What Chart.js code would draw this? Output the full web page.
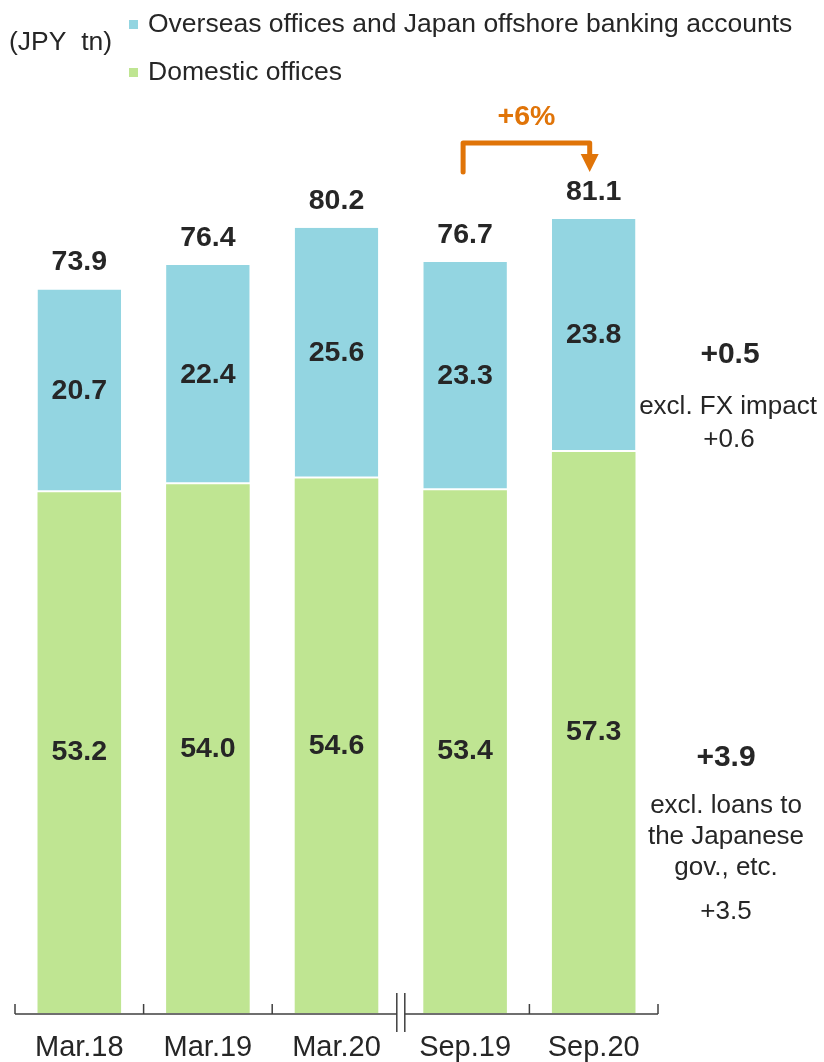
<!DOCTYPE html>
<html>
<head>
<meta charset="utf-8">
<script src="https://cdn.jsdelivr.net/npm/chart.js@4"></script>
<style>
  html, body { margin: 0; padding: 0; background: #fff; }
  #wrap { width: 824px; height: 1062px; }
</style>
</head>
<body>
<div id="wrap"><canvas id="loanChart" width="824" height="1062"></canvas></div>
<script>
const categories = ['Mar.18', 'Mar.19', 'Mar.20', 'Sep.19', 'Sep.20'];
const domestic = [53.2, 54.0, 54.6, 53.4, 57.3];
const overseas = [20.7, 22.4, 25.6, 23.3, 23.8];
const totals = [73.9, 76.4, 80.2, 76.7, 81.1];
const breakAfter = 2; // axis break between Mar.20 and Sep.19

const FONT = '"Liberation Sans", Arial, sans-serif';
const TEXT = '#262626';
const BLUE = '#93d5e1';
const GREEN = '#bfe592';
const ORANGE = '#e07408';

const annotate = {
  id: 'annotate',
  afterDatasetsDraw(chart) {
    const ctx = chart.ctx;
    const xs = chart.scales.x;
    const ys = chart.scales.y;
    const area = chart.chartArea;
    const step = xs.getPixelForValue(1) - xs.getPixelForValue(0);
    ctx.save();
    ctx.textAlign = 'center';
    ctx.textBaseline = 'middle';

    // values inside each segment
    ctx.fillStyle = TEXT;
    ctx.font = 'bold 28.5px ' + FONT;
    chart.data.datasets.forEach((ds, di) => {
      chart.getDatasetMeta(di).data.forEach((bar, i) => {
        ctx.fillText(ds.data[i].toFixed(1), bar.x, (bar.y + bar.base) / 2);
      });
    });

    // totals above bars
    totals.forEach((t, i) => {
      ctx.fillText(t.toFixed(1), xs.getPixelForValue(i), ys.getPixelForValue(t) - 27);
    });

    // category axis with break
    const y0 = ys.getPixelForValue(0) + 1;
    ctx.strokeStyle = '#404040';
    ctx.lineWidth = 1.5;
    const bx = xs.getPixelForValue(breakAfter) + step / 2;
    ctx.beginPath();
    ctx.moveTo(area.left, y0);
    ctx.lineTo(bx - 4, y0);
    ctx.moveTo(bx + 4, y0);
    ctx.lineTo(area.right, y0);
    for (let i = 0; i <= categories.length; i++) {
      if (i === breakAfter + 1) continue;
      const tx = xs.getPixelForValue(i) - step / 2;
      ctx.moveTo(tx, y0 - 10);
      ctx.lineTo(tx, y0);
    }
    ctx.moveTo(bx - 4, y0 - 21);
    ctx.lineTo(bx - 4, y0 + 18);
    ctx.moveTo(bx + 4, y0 - 21);
    ctx.lineTo(bx + 4, y0 + 18);
    ctx.stroke();

    ctx.font = '29px ' + FONT;
    categories.forEach((c, i) => {
      ctx.fillText(c, xs.getPixelForValue(i), y0 + 34);
    });

    // growth arrow from Sep.19 to Sep.20
    const ax1 = xs.getPixelForValue(3) - 2;
    const ax2 = xs.getPixelForValue(4) - 4;
    const ay = 143;
    ctx.strokeStyle = ORANGE;
    ctx.fillStyle = ORANGE;
    ctx.lineWidth = 5;
    ctx.lineCap = 'round';
    ctx.lineJoin = 'round';
    ctx.beginPath();
    ctx.moveTo(ax1, 172);
    ctx.lineTo(ax1, ay);
    ctx.lineTo(ax2, ay);
    ctx.lineTo(ax2, 156);
    ctx.stroke();
    ctx.beginPath();
    ctx.moveTo(ax2 - 9, 154);
    ctx.lineTo(ax2 + 9, 154);
    ctx.lineTo(ax2, 172);
    ctx.closePath();
    ctx.fill();
    ctx.font = 'bold 28.5px ' + FONT;
    ctx.fillText('+6%', (ax1 + ax2) / 2, 117);

    // change notes on the right
    ctx.fillStyle = TEXT;
    ctx.font = 'bold 30px ' + FONT;
    ctx.fillText('+0.5', 730, 355);
    ctx.fillText('+3.9', 726, 758);
    ctx.font = '26px ' + FONT;
    ctx.fillText('excl. FX impact', 728, 407);
    ctx.fillText('+0.6', 729, 440);
    ctx.fillText('excl. loans to', 726, 806);
    ctx.fillText('the Japanese', 726, 837);
    ctx.fillText('gov., etc.', 726, 868);
    ctx.fillText('+3.5', 726, 912);

    // unit and legend
    ctx.textAlign = 'left';
    ctx.font = '26.5px ' + FONT;
    ctx.fillText('(JPY  tn)', 9, 43);
    ctx.fillStyle = BLUE;
    ctx.fillRect(129, 20, 9, 9);
    ctx.fillStyle = GREEN;
    ctx.fillRect(129, 68, 9, 9);
    ctx.fillStyle = TEXT;
    ctx.fillText('Overseas offices and Japan offshore banking accounts', 148, 25);
    ctx.fillText('Domestic offices', 148, 73);
    ctx.restore();
  }
};

new Chart(document.getElementById('loanChart'), {
  type: 'bar',
  data: {
    labels: categories,
    datasets: [
      {
        label: 'Domestic offices',
        data: domestic,
        backgroundColor: GREEN,
        borderWidth: 0,
      },
      {
        label: 'Overseas offices and Japan offshore banking accounts',
        data: overseas,
        backgroundColor: BLUE,
        borderColor: '#ffffff',
        borderWidth: { bottom: 2, top: 0, left: 0, right: 0 },
        borderSkipped: false,
      },
    ],
  },
  options: {
    responsive: false,
    animation: false,
    devicePixelRatio: 1,
    datasets: {
      bar: { categoryPercentage: 1, barPercentage: 0.65 },
    },
    layout: { padding: { left: 15, right: 166, top: 34, bottom: 49 } },
    plugins: { legend: { display: false }, tooltip: { enabled: false } },
    scales: {
      x: { display: false, stacked: true },
      y: { display: false, stacked: true, min: 0, max: 100 },
    },
  },
  plugins: [annotate],
});
</script>
</body>
</html>
